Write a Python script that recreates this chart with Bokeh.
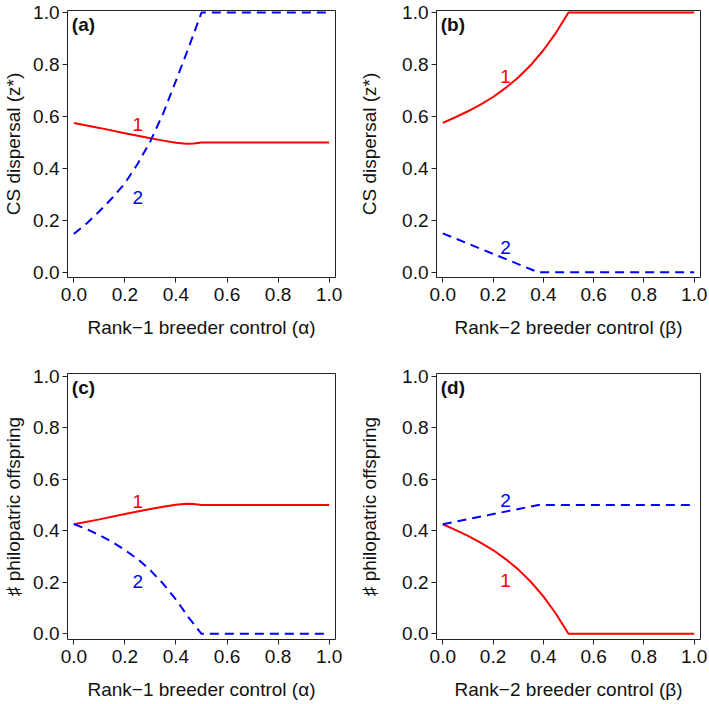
from bokeh.plotting import figure
from bokeh.layouts import column, row
from bokeh.models import Range1d, FixedTicker, NumeralTickFormatter, Label
from bokeh.core.properties import value
from bokeh.embed import file_html
from bokeh.resources import INLINE

# ---------------- data ----------------
ticks = [0.0, 0.2, 0.4, 0.6, 0.8, 1.0]

# panel (a): CS dispersal vs rank-1 control (alpha)
a_x1 = [0.0, 0.1, 0.2, 0.3, 0.35, 0.4, 0.44, 0.47, 0.5, 1.0]
a_y1 = [0.575, 0.556, 0.535, 0.516, 0.507, 0.499, 0.495, 0.496, 0.5, 0.5]
a_x2 = [0.0, 0.05, 0.1, 0.15, 0.2, 0.25, 0.3, 0.35, 0.4, 0.45, 0.5, 1.0]
a_y2 = [0.148, 0.188, 0.235, 0.286, 0.343, 0.418, 0.505, 0.612, 0.738, 0.866, 1.0, 1.0]

# panel (b): CS dispersal vs rank-2 control (beta)
b_x1 = [0.0, 0.05, 0.1, 0.15, 0.2, 0.25, 0.3, 0.35, 0.4, 0.45, 0.5, 1.0]
b_y1 = [0.575, 0.597, 0.620, 0.646, 0.675, 0.710, 0.750, 0.798, 0.855, 0.922, 1.0, 1.0]
b_x2 = [0.0, 0.38, 1.0]
b_y2 = [0.15, 0.0, 0.0]

# panel (c): philopatric offspring vs alpha
c_x1 = [0.0, 0.1, 0.2, 0.3, 0.35, 0.4, 0.44, 0.47, 0.5, 1.0]
c_y1 = [0.425, 0.444, 0.465, 0.484, 0.493, 0.501, 0.505, 0.504, 0.5, 0.5]
c_x2 = [0.0, 0.05, 0.1, 0.15, 0.2, 0.25, 0.3, 0.35, 0.4, 0.45, 0.5, 1.0]
c_y2 = [0.426, 0.406, 0.383, 0.357, 0.325, 0.290, 0.246, 0.194, 0.133, 0.063, 0.0, 0.0]

# panel (d): philopatric offspring vs beta
d_x1 = [0.0, 0.05, 0.1, 0.15, 0.2, 0.25, 0.3, 0.35, 0.4, 0.45, 0.5, 1.0]
d_y1 = [0.425, 0.403, 0.380, 0.354, 0.325, 0.290, 0.250, 0.202, 0.145, 0.078, 0.0, 0.0]
d_x2 = [0.0, 0.38, 1.0]
d_y2 = [0.425, 0.5, 0.5]

# curve number labels: (x, y) for "1" and "2"
a_lab = [(0.25, 0.57), (0.25, 0.287)]
b_lab = [(0.25, 0.754), (0.25, 0.095)]
c_lab = [(0.25, 0.515), (0.25, 0.202)]
d_lab = [(0.25, 0.205), (0.25, 0.517)]

panel_letters = ["(a)", "(b)", "(c)", "(d)"]
xlabels = ["Rank\u22121 breeder control (\u03b1)", "Rank\u22122 breeder control (\u03b2)"]
ylabels = ["CS dispersal (z*)", "\u266f philopatric offspring"]

FONT = "Liberation Sans"
FS = "19px"
RED = "#ff0000"
BLUE = "#0000ff"
DARK = "#222222"


def make_panel(xs1, ys1, xs2, ys2, labs, letter, xlabel, ylabel,
               width, height, bl, br, bt, bb, ylab_standoff, y_rng):
    p = figure(width=width, height=height, output_backend="svg",
               toolbar_location=None,
               x_range=Range1d(-0.025, 1.025), y_range=Range1d(*y_rng),
               min_border_left=bl, min_border_right=br,
               min_border_top=bt, min_border_bottom=bb)
    p.grid.visible = False
    p.outline_line_color = DARK
    p.outline_line_width = 1
    p.outline_line_alpha = 1.0
    p.background_fill_color = "white"
    p.border_fill_color = "white"
    for ax in (p.xaxis[0], p.yaxis[0]):
        ax.ticker = FixedTicker(ticks=ticks)
        ax.formatter = NumeralTickFormatter(format="0.0")
        ax.axis_line_color = None
        ax.major_tick_line_color = DARK
        ax.major_tick_out = 5
        ax.major_tick_in = 0
        ax.minor_tick_line_color = None
        ax.major_label_text_font = FONT
        ax.major_label_text_font_size = FS
        ax.major_label_text_color = "#111111"
        ax.axis_label_text_font = FONT
        ax.axis_label_text_font_size = FS
        ax.axis_label_text_font_style = "normal"
        ax.axis_label_text_color = "#111111"
    p.xaxis[0].axis_label = xlabel
    p.yaxis[0].axis_label = ylabel
    p.xaxis[0].major_label_standoff = 5
    p.yaxis[0].major_label_standoff = 3
    p.xaxis[0].axis_label_standoff = 13
    p.yaxis[0].axis_label_standoff = ylab_standoff

    p.line(xs1, ys1, line_color=RED, line_width=2)
    p.line(xs2, ys2, line_color=BLUE, line_width=2, line_dash="9 6")

    p.text(x=[labs[0][0]], y=[labs[0][1]], text=["1"], text_color=RED,
           text_font=value(FONT), text_font_size=value(FS),
           text_align="center", text_baseline="middle")
    p.text(x=[labs[1][0]], y=[labs[1][1]], text=["2"], text_color=BLUE,
           text_font=value(FONT), text_font_size=value(FS),
           text_align="center", text_baseline="middle")

    p.add_layout(Label(x=-0.008, y=0.995, text=letter, text_font=FONT,
                       text_font_size=FS, text_font_style="bold",
                       text_color="#111111", text_align="left",
                       text_baseline="top"))
    return p


row1_y = (-0.02, 1.008)
row2_y = (-0.022, 1.01)

# row 1: frames at y 10..277 ; row 2: frames at y 373..639
pa = make_panel(a_x1, a_y1, a_x2, a_y2, a_lab, panel_letters[0], xlabels[0], ylabels[0],
                356, 347, 64, 21, 10, 70, 6, row1_y)
pb = make_panel(b_x1, b_y1, b_x2, b_y2, b_lab, panel_letters[1], xlabels[1], ylabels[0],
                352, 347, 75, 8, 10, 70, 19, row1_y)
pc = make_panel(c_x1, c_y1, c_x2, c_y2, c_lab, panel_letters[2], xlabels[0], ylabels[1],
                356, 357, 64, 21, 26, 65, 6, row2_y)
pd = make_panel(d_x1, d_y1, d_x2, d_y2, d_lab, panel_letters[3], xlabels[1], ylabels[1],
                352, 357, 75, 8, 26, 65, 19, row2_y)

layout = column(row(pa, pb), row(pc, pd))

open("out.html", "w").write(file_html(layout, INLINE))
